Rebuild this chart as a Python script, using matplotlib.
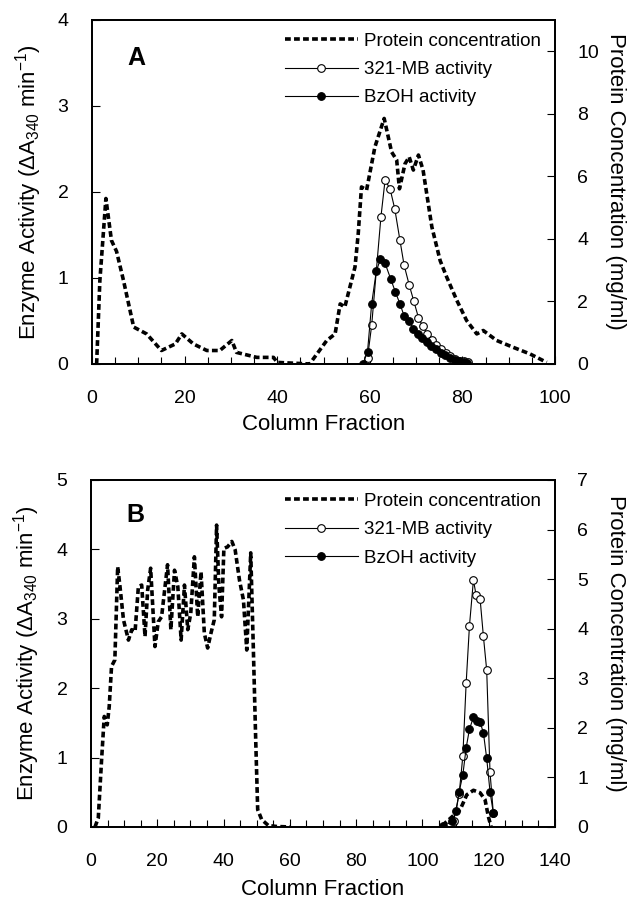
import matplotlib
matplotlib.use("Agg")
import matplotlib.pyplot as plt
from matplotlib.ticker import MultipleLocator
from matplotlib.lines import Line2D

plt.rcParams['font.family'] = ['Liberation Sans', 'DejaVu Sans']
plt.rcParams['mathtext.fontset'] = 'custom'
plt.rcParams['mathtext.rm'] = 'Liberation Sans'
plt.rcParams['mathtext.it'] = 'Liberation Sans'

# ---------------- Panel A data ----------------
a_prot_x = [1, 1.7, 3, 4.2, 5.3, 6.8, 9, 11.8, 15, 18, 19.4, 21.9, 24.8, 27.6, 30.2, 31.2,
            35.6, 39.2, 40, 47, 50.7, 52.5, 53.6, 54.6, 56.8, 57.5, 58.2, 59.3, 61.1, 63.1,
            64.7, 65.8, 66.4, 67.6, 68.5, 69.4, 70.5, 71.5, 73.4, 75.2, 76.6, 78.8, 80.9,
            83.1, 84.5, 87.4, 91, 94.6, 98.2]
a_prot_y = [0, 2.67, 5.29, 3.95, 3.6, 2.67, 1.18, 0.96, 0.43, 0.64, 0.96, 0.64, 0.43, 0.43, 0.75, 0.37,
            0.21, 0.21, 0.05, 0, 0.75, 0.96, 1.92, 1.82, 3.1, 4.17, 5.66, 5.56, 6.94, 7.85,
            6.78, 6.52, 5.6, 6.4, 6.62, 6.2, 6.68, 6.2, 4.38, 3.3, 2.78, 2.03, 1.39,
            0.96, 1.07, 0.75, 0.53, 0.32, 0.05]
a_mb_x = [59.5, 60.4, 62.4, 63.3, 64.4, 65.4, 66.5, 67.4, 68.5, 69.5, 70.5, 71.4, 72.4,
          73.4, 74.4, 75.4, 76.4, 77.4, 78.4, 79.4, 80.4, 81.3]
a_mb_y = [0.07, 0.45, 1.71, 2.14, 2.03, 1.80, 1.44, 1.15, 0.92, 0.73, 0.54, 0.44, 0.35,
          0.28, 0.22, 0.17, 0.13, 0.09, 0.06, 0.04, 0.03, 0.02]
a_bz_x = [58.5, 59.5, 60.4, 61.4, 62.3, 63.3, 64.5, 65.5, 66.5, 67.4, 68.5, 69.4, 70.4,
          71.3, 72.3, 73.3, 74.3, 75.3, 76.3, 77.3, 78.3, 79.3, 80.3, 81.0]
a_bz_y = [0, 0.14, 0.70, 1.08, 1.22, 1.17, 0.99, 0.84, 0.70, 0.56, 0.50, 0.41, 0.35,
          0.30, 0.25, 0.21, 0.17, 0.13, 0.10, 0.07, 0.05, 0.03, 0.02, 0.01]

# ---------------- Panel B data ----------------
b_prot_x = [1.2, 2.2, 3.2, 4, 4.9, 5.5, 6.2, 7.2, 8.05, 8.75, 9.8, 11.3, 12.3, 13.3, 14.3,
            15.3, 16.3, 17.1, 18, 19.3, 20.3, 21.3, 23.1, 24.1, 25.2, 26.2, 27.2, 28.2,
            29.2, 30.1, 31.2, 32.2, 33.2, 34.2, 35.2, 36.2, 37.2, 37.9, 38.6, 39.4, 40.1,
            41.2, 42.5, 43.5, 44.8, 46, 47, 48.2, 49, 49.7, 50.3, 51.5, 53.5, 56, 60]
b_prot_y = [0, 0.18, 1.36, 2.23, 2.06, 2.43, 3.24, 3.37, 5.25, 4.85, 4.18, 3.77, 3.98, 3.94, 4.85,
            4.88, 3.84, 4.78, 5.22, 3.64, 4.14, 4.24, 5.29, 3.98, 5.18, 4.85, 3.77, 4.88,
            3.98, 4.31, 5.45, 4.24, 5.15, 3.91, 3.61, 3.91, 4.18, 6.09, 4.85, 4.24, 5.62,
            5.65, 5.76, 5.59, 4.98, 4.58, 3.57, 5.53, 3.57, 1.76, 0.35, 0.15, 0.03, 0.01, 0.0]
b_prot2_x = [106, 111.4, 113.4, 115.4, 117.4, 118.9, 119.9, 120.7]
b_prot2_y = [0.03, 0.35, 0.65, 0.74, 0.69, 0.55, 0.21, 0.01]
b_mb_x = [109.4, 111.1, 112.2, 113.2, 114.2, 115.4, 116.2, 117.4, 118.4, 119.4, 120.4, 121.4]
b_mb_y = [0.08, 0.48, 1.02, 2.07, 2.90, 3.56, 3.34, 3.29, 2.75, 2.26, 0.79, 0.20]
b_bz_x = [106.3, 108.9, 110.2, 111.1, 112.2, 113.2, 114.2, 115.4, 116.4, 117.4, 118.4,
          119.4, 120.4, 121.4]
b_bz_y = [0.01, 0.08, 0.23, 0.51, 0.75, 1.14, 1.41, 1.58, 1.53, 1.51, 1.36, 0.99, 0.51, 0.20]

legend_labels = ["Protein concentration", "321-MB activity", "BzOH activity"]
xlabel = "Column Fraction"
ylabel_left = r"Enzyme Activity ($\Delta$A$_{340}$ min$^{-1}$)"
ylabel_right = "Protein Concentration (mg/ml)"

fig = plt.figure(figsize=(6.31, 8.98), dpi=100)

dash = (0, (1.6, 0.9))
prot_kw = dict(color='black', lw=2.6, linestyle=dash, dash_capstyle='butt')
mb_kw = dict(color='black', lw=0.8, marker='o', ms=5.5, mfc='white', mec='black', mew=0.8)
bz_kw = dict(color='black', lw=0.8, marker='o', ms=5.5, mfc='black', mec='black', mew=0.8)

def style(ax, ax2, xmax, ymax_l, ymax_r, xmaj, xmin, xlab_y):
    ax.set_xlim(0, xmax)
    ax.set_ylim(0, ymax_l)
    ax2.set_ylim(0, ymax_r)
    ax.xaxis.set_major_locator(MultipleLocator(xmaj))
    ax.xaxis.set_minor_locator(MultipleLocator(xmin))
    ax.yaxis.set_major_locator(MultipleLocator(1))
    ax2.yaxis.set_major_locator(MultipleLocator(1 if ymax_r < 8 else 2))
    for a in (ax, ax2):
        a.tick_params(direction='in', length=6, width=0.8, labelsize=14)
        a.tick_params(which='minor', direction='in', length=5, width=0.8)
        for s in a.spines.values():
            s.set_linewidth(1.3)
    ax.tick_params(axis='x', pad=19)
    ax.tick_params(axis='y', pad=17)
    ax2.tick_params(axis='y', pad=16)
    ax.set_xlabel(xlabel, fontsize=16, va='center')
    ax.xaxis.set_label_coords(0.5, xlab_y)
    ax.set_ylabel(ylabel_left, fontsize=16, va='center')
    ax.yaxis.set_label_coords(-0.138, 0.5)
    ax2.set_ylabel(ylabel_right, fontsize=16, rotation=270, va='center')
    ax2.yaxis.set_label_coords(1.13, 0.53)

def legend(ax):
    handles = [Line2D([], [], **prot_kw), Line2D([], [], **mb_kw), Line2D([], [], **bz_kw)]
    ax.legend(handles, legend_labels, loc='upper right', bbox_to_anchor=(0.985, 0.985),
              borderaxespad=0, frameon=False, fontsize=13.5, handlelength=3.9,
              handletextpad=0.3, labelspacing=0.6, markerfirst=True)

# Panel A
axA = fig.add_axes([0.1458, 0.5947, 0.7338, 0.3831])
axA2 = axA.twinx()
axA2.plot(a_prot_x, a_prot_y, **prot_kw)
axA.plot(a_mb_x, a_mb_y, zorder=3, **mb_kw)
axA.plot(a_bz_x, a_bz_y, zorder=4, **bz_kw)
style(axA, axA2, 100, 4, 11, 20, 5, -0.175)
axA.text(0.076, 0.869, "A", transform=axA.transAxes, fontsize=18, fontweight='bold')
legend(axA2)

# Panel B
axB = fig.add_axes([0.1442, 0.0791, 0.7353, 0.3864])
axB2 = axB.twinx()
axB2.plot(b_prot_x, b_prot_y, **prot_kw)
axB2.plot(b_prot2_x, b_prot2_y, **prot_kw)
axB.plot(b_mb_x, b_mb_y, zorder=3, **mb_kw)
axB.plot(b_bz_x, b_bz_y, zorder=4, **bz_kw)
style(axB, axB2, 140, 5, 7, 20, 5, -0.179)
axB.text(0.076, 0.879, "B", transform=axB.transAxes, fontsize=18, fontweight='bold')
legend(axB2)

fig.savefig("out.png", dpi=100)
